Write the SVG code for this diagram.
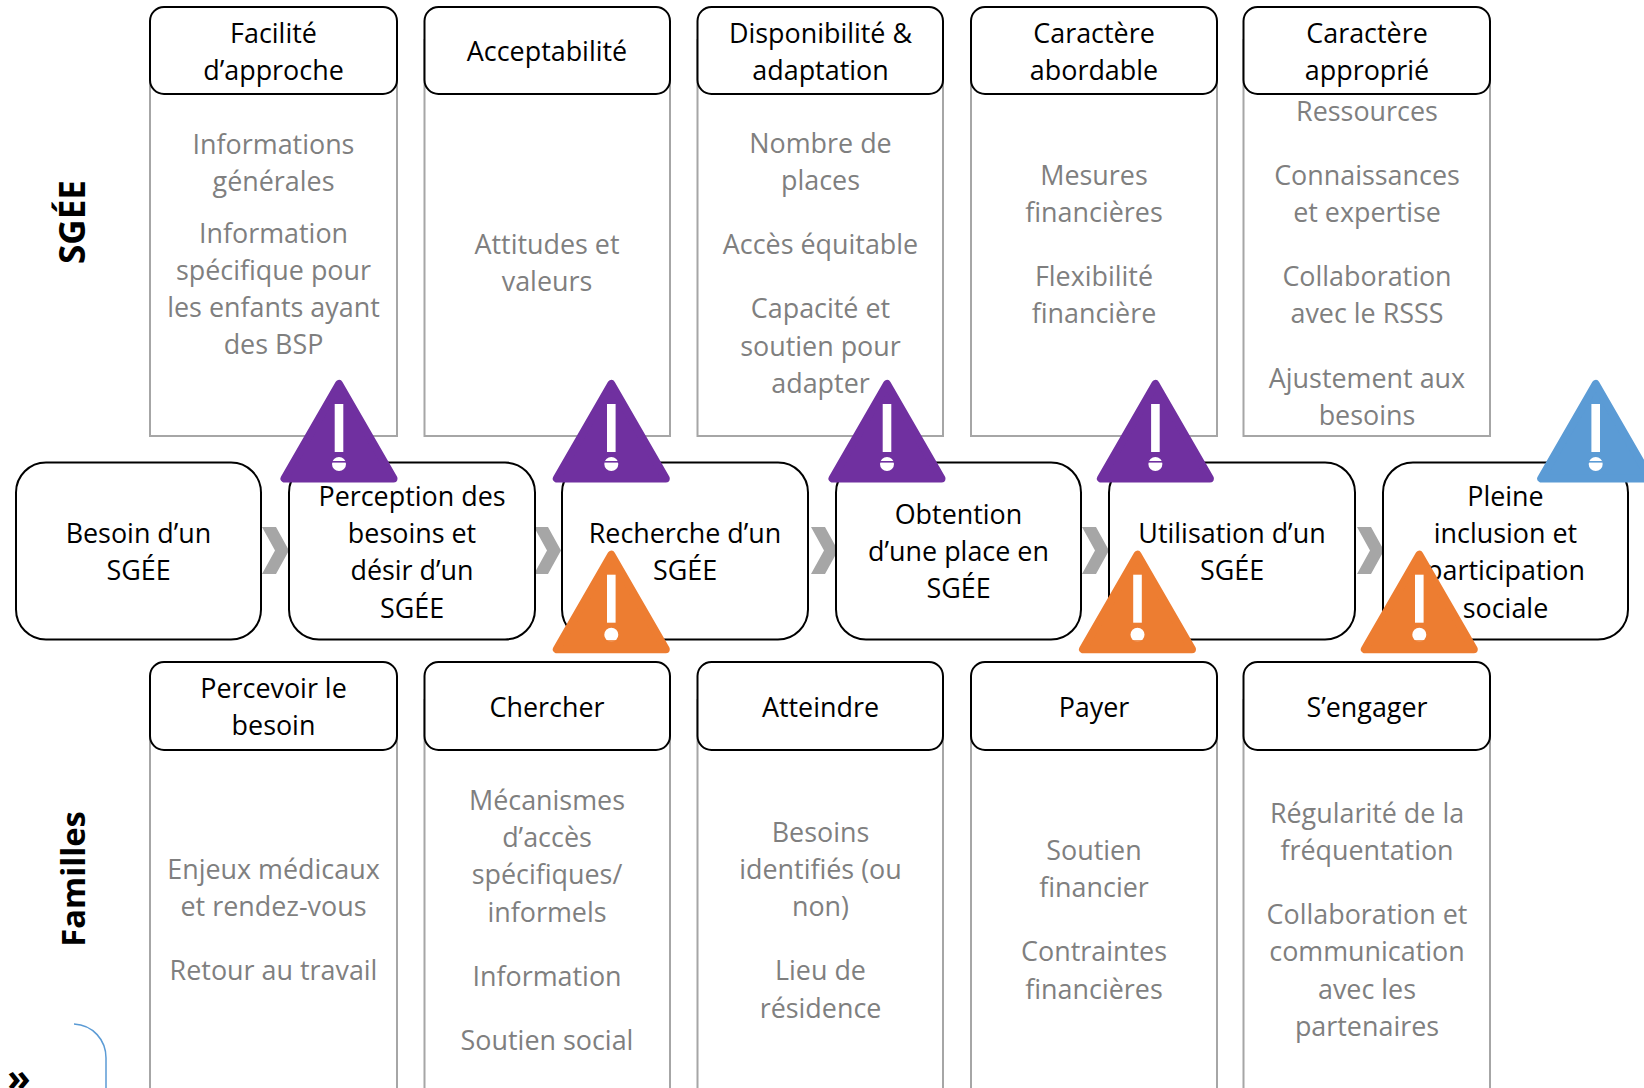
<svg xmlns="http://www.w3.org/2000/svg" width="1644" height="1088" viewBox="0 0 1644 1088">
<style>
text{font-family:"Open Sans","Noto Sans",sans-serif;font-size:26.900px;text-anchor:middle}
.h rect,.s rect{fill:#fff;stroke:#000;stroke-width:2}
.b{fill:#fff;stroke:#a6a6a6;stroke-width:2}
.g{fill:#7f7f7f}
.l{font-weight:700}
.c{fill:#a6a6a6}
.t{stroke-linejoin:round;stroke-width:8}
.p{fill:#7030a0;stroke:#7030a0}.o{fill:#ed7d31;stroke:#ed7d31}.u{fill:#5b9bd5;stroke:#5b9bd5}
.w{fill:#fff;stroke:none}
.n{stroke:none}
</style>
<defs>
<g id="tri"><path class="t" d="M0 4L-54.500 98.500H54.500Z"/><rect class="w" x="-4.300" y="24" width="8.600" height="48"/><circle class="w" cx="0" cy="84" r="7"/><rect class="n" x="-7" y="81" width="14" height="1.600"/></g>
<g id="tri2"><path class="t" d="M0 4L-54.500 98.500H54.500Z"/><rect class="w" x="-4.300" y="24" width="8.600" height="48"/><circle class="w" cx="0" cy="84" r="7"/><rect class="n" x="-7" y="89.500" width="14" height="1.600"/></g>
</defs>
<g id="connectors">
<path class="c" d="M262 527h14l13 23.500-13 23.500h-14l13-23.500z"/>
<path class="c" d="M534 527h14l13 23.500-13 23.500h-14l13-23.500z"/>
<path class="c" d="M811 527h14l13 23.500-13 23.500h-14l13-23.500z"/>
<path class="c" d="M1082 527h14l13 23.500-13 23.500h-14l13-23.500z"/>
<path class="c" d="M1357 527h14l13 23.500-13 23.500h-14l13-23.500z"/>
</g>
<g id="col1-top"><rect class="b" x="150" y="40" width="247" height="396"/><g class="h"><rect x="150" y="7" width="247" height="87" rx="14"/></g>
<text x="273.500" y="43">Facilité</text><text x="273.500" y="80">d’approche</text>
<g class="g"><text x="273.500" y="154">Informations</text><text x="273.500" y="191">générales</text><text x="273.500" y="242.500">Information</text><text x="273.500" y="280">spécifique pour</text><text x="273.500" y="317">les enfants ayant</text><text x="273.500" y="354">des BSP</text></g></g>
<g id="col2-top"><rect class="b" x="424.500" y="40" width="245.500" height="396"/><g class="h"><rect x="424.500" y="7" width="245.500" height="87" rx="14"/></g>
<text x="547" y="61">Acceptabilité</text>
<g class="g"><text x="547" y="254">Attitudes et</text><text x="547" y="291">valeurs</text></g></g>
<g id="col3-top"><rect class="b" x="697.500" y="40" width="245.500" height="396"/><g class="h"><rect x="697.500" y="7" width="245.500" height="87" rx="14"/></g>
<text x="820.500" y="43">Disponibilité &amp;</text><text x="820.500" y="80">adaptation</text>
<g class="g"><text x="820.500" y="153">Nombre de</text><text x="820.500" y="190">places</text><text x="820.500" y="254">Accès équitable</text><text x="820.500" y="318">Capacité et</text><text x="820.500" y="356">soutien pour</text><text x="820.500" y="393">adapter</text></g></g>
<g id="col4-top"><rect class="b" x="971" y="40" width="246" height="396"/><g class="h"><rect x="971" y="7" width="246" height="87" rx="14"/></g>
<text x="1094" y="43">Caractère</text><text x="1094" y="80">abordable</text>
<g class="g"><text x="1094" y="185">Mesures</text><text x="1094" y="222">financières</text><text x="1094" y="286">Flexibilité</text><text x="1094" y="323">financière</text></g></g>
<g id="col5-top"><rect class="b" x="1243.500" y="40" width="246.500" height="396"/><g class="h"><rect x="1243.500" y="7" width="246.500" height="87" rx="14"/></g>
<text x="1367" y="43">Caractère</text><text x="1367" y="80">approprié</text>
<g class="g"><text x="1367" y="121">Ressources</text><text x="1367" y="185">Connaissances</text><text x="1367" y="222">et expertise</text><text x="1367" y="286">Collaboration</text><text x="1367" y="323">avec le RSSS</text><text x="1367" y="388">Ajustement aux</text><text x="1367" y="425">besoins</text></g></g>
<text id="label-sge" class="l" style="font-size:35px" transform="translate(85 222) rotate(-90)">SGÉE</text>
<text id="label-familles" class="l" style="font-size:32.800px" transform="translate(85 879) rotate(-90)">Familles</text>
<g id="step1" class="s"><rect x="16" y="462.500" width="245" height="177" rx="30"/><text x="138.500" y="543">Besoin d’un</text><text x="138.500" y="580">SGÉE</text></g>
<g id="step2" class="s"><rect x="289" y="462.500" width="246" height="177" rx="30"/><text x="412" y="506">Perception des</text><text x="412" y="543">besoins et</text><text x="412" y="580">désir d’un</text><text x="412" y="618">SGÉE</text></g>
<g id="step3" class="s"><rect x="562" y="462.500" width="246" height="177" rx="30"/><text x="685" y="543">Recherche d’un</text><text x="685" y="580">SGÉE</text></g>
<g id="step4" class="s"><rect x="836" y="462.500" width="245" height="177" rx="30"/><text x="958.500" y="524">Obtention</text><text x="958.500" y="561">d’une place en</text><text x="958.500" y="598">SGÉE</text></g>
<g id="step5" class="s"><rect x="1109" y="462.500" width="246" height="177" rx="30"/><text x="1232" y="543">Utilisation d’un</text><text x="1232" y="580">SGÉE</text></g>
<g id="step6" class="s"><rect x="1383" y="462.500" width="245" height="177" rx="30"/><text x="1505.500" y="506">Pleine</text><text x="1505.500" y="543">inclusion et</text><text x="1505.500" y="580">participation</text><text x="1505.500" y="618">sociale</text></g>
<g id="col1-bot"><rect class="b" x="150" y="700" width="247" height="420"/><g class="h"><rect x="150" y="662" width="247" height="88" rx="14"/></g>
<text x="273.500" y="698">Percevoir le</text><text x="273.500" y="735">besoin</text>
<g class="g"><text x="273.500" y="879">Enjeux médicaux</text><text x="273.500" y="916">et rendez-vous</text><text x="273.500" y="980">Retour au travail</text></g></g>
<g id="col2-bot"><rect class="b" x="424.500" y="700" width="245.500" height="420"/><g class="h"><rect x="424.500" y="662" width="245.500" height="88" rx="14"/></g>
<text x="547" y="717">Chercher</text>
<g class="g"><text x="547" y="810">Mécanismes</text><text x="547" y="847">d’accès</text><text x="547" y="884">spécifiques/</text><text x="547" y="922">informels</text><text x="547" y="986">Information</text><text x="547" y="1050">Soutien social</text></g></g>
<g id="col3-bot"><rect class="b" x="697.500" y="700" width="245.500" height="420"/><g class="h"><rect x="697.500" y="662" width="245.500" height="88" rx="14"/></g>
<text x="820.500" y="717">Atteindre</text>
<g class="g"><text x="820.500" y="842">Besoins</text><text x="820.500" y="879">identifiés (ou</text><text x="820.500" y="916">non)</text><text x="820.500" y="980">Lieu de</text><text x="820.500" y="1018">résidence</text></g></g>
<g id="col4-bot"><rect class="b" x="971" y="700" width="246" height="420"/><g class="h"><rect x="971" y="662" width="246" height="88" rx="14"/></g>
<text x="1094" y="717">Payer</text>
<g class="g"><text x="1094" y="860">Soutien</text><text x="1094" y="897">financier</text><text x="1094" y="961">Contraintes</text><text x="1094" y="999">financières</text></g></g>
<g id="col5-bot"><rect class="b" x="1243.500" y="700" width="246.500" height="420"/><g class="h"><rect x="1243.500" y="662" width="246.500" height="88" rx="14"/></g>
<text x="1367" y="717">S’engager</text>
<g class="g"><text x="1367" y="823">Régularité de la</text><text x="1367" y="860">fréquentation</text><text x="1367" y="924">Collaboration et</text><text x="1367" y="961">communication</text><text x="1367" y="999">avec les</text><text x="1367" y="1036">partenaires</text></g></g>
<g id="alerts">
<use href="#tri" class="p" x="339" y="380"/><use href="#tri" class="p" x="611.300" y="380"/><use href="#tri" class="p" x="887" y="380"/><use href="#tri" class="p" x="1155.400" y="380"/><use href="#tri" class="u" x="1595.700" y="380"/>
<use href="#tri2" class="o" x="611.300" y="550.700"/><use href="#tri2" class="o" x="1137.500" y="550.700"/><use href="#tri2" class="o" x="1419.300" y="550.700"/>
</g>
<path id="corner" d="M74 1024C93 1025 106 1040 106 1058V1088" fill="none" stroke="#5b9bd5" stroke-width="1.500"/>
<text id="chevrons" x="19" y="1091" style="font-size:38px;font-weight:700">»</text>
</svg>
